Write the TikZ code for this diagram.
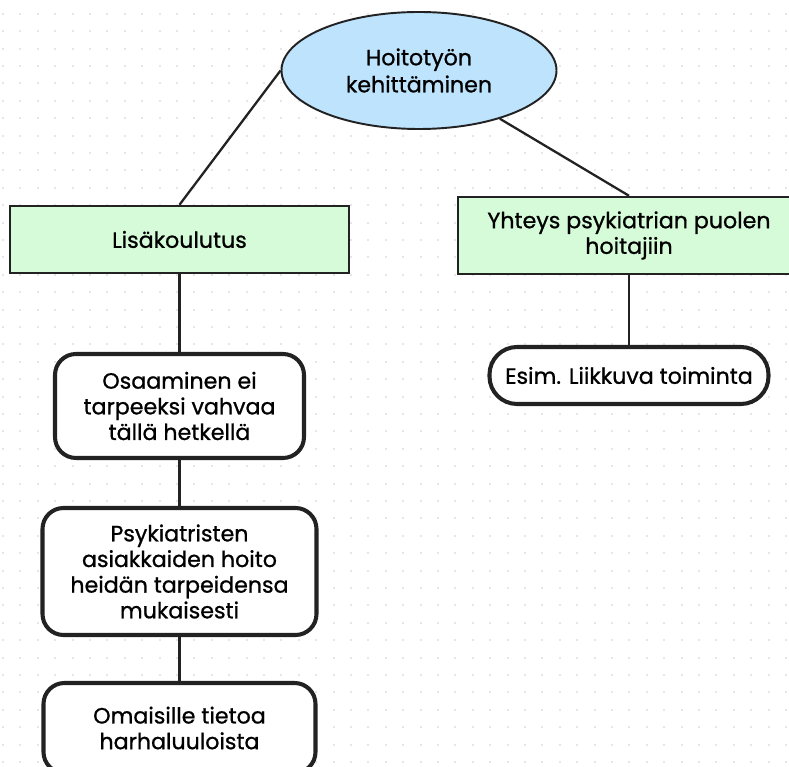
\documentclass[tikz,border=0pt]{standalone}
\usepackage{fontspec}
\setmainfont{Poppins}[FakeBold=0.9]
\usetikzlibrary{shapes}

\definecolor{ink}{HTML}{222222}
\definecolor{skyfill}{HTML}{BEE3FD}
\definecolor{mintfill}{HTML}{D5FBD9}
\definecolor{dotgray}{HTML}{E5E6EB}

\begin{document}
\begin{tikzpicture}[
    font=\fontsize{12.6}{14.6}\selectfont,
    topic/.style={ellipse,draw=ink,line width=1.1pt,fill=skyfill,align=center,inner sep=0pt},
    branch/.style={rectangle,draw=ink,line width=1.4pt,fill=mintfill,align=center,inner sep=0pt},
    leaf/.style={rectangle,rounded corners=0.42cm,draw=ink,line width=2.3pt,fill=white,align=center,inner sep=0pt},
    link/.style={draw=ink,line width=1.3pt}]
        \useasboundingbox (0.0,0.0) rectangle (15.78,-15.34);
        \clip (0.0,0.0) rectangle (15.78,-15.34);
        % dotted paper
        \foreach \i in {0,...,45}
            \foreach \j in {0,...,44}
                \fill[dotgray] (0.04+0.348*\i,-0.255-0.348*\j) rectangle ++(0.04,-0.04);
        \node [topic,minimum width=5.5cm,minimum height=2.34cm,font=\fontsize{12.6}{15.4}\selectfont] (H) at (8.38,-1.41) {Hoitotyön\\kehittäminen};
        \node [branch,minimum width=6.78cm,minimum height=1.34cm] (L) at (3.59,-4.79) {Lisäkoulutus};
        \node [branch,minimum width=6.84cm,minimum height=1.54cm] (Y) at (12.58,-4.71) {Yhteys psykiatrian puolen\\hoitajiin};
        \node [leaf,minimum width=4.98cm,minimum height=2.08cm] (L1) at (3.59,-8.12) {Osaaminen ei\\tarpeeksi vahvaa\\tällä hetkellä};
        \node [leaf,minimum width=5.48cm,minimum height=2.54cm] (L2) at (3.59,-11.43) {Psykiatristen\\asiakkaiden hoito\\heidän tarpeidensa\\mukaisesti};
        \node [leaf,minimum width=5.44cm,minimum height=1.8cm] (L3) at (3.59,-14.56) {Omaisille tietoa\\harhaluuloista};
        \node [leaf,rounded corners=0.55cm,minimum width=5.58cm,minimum height=1.14cm] (Y1) at (12.58,-7.51) {Esim. Liikkuva toiminta};
        \draw[link] (H.west) -- (L.north);
        \draw[link] (H) -- (Y.north);
        \draw[link] (L) -- (L1);
        \draw[link] (L1) -- (L2);
        \draw[link] (L2) -- (L3);
        \draw[link] (Y) -- (Y1);
    \end{tikzpicture}
\end{document}
